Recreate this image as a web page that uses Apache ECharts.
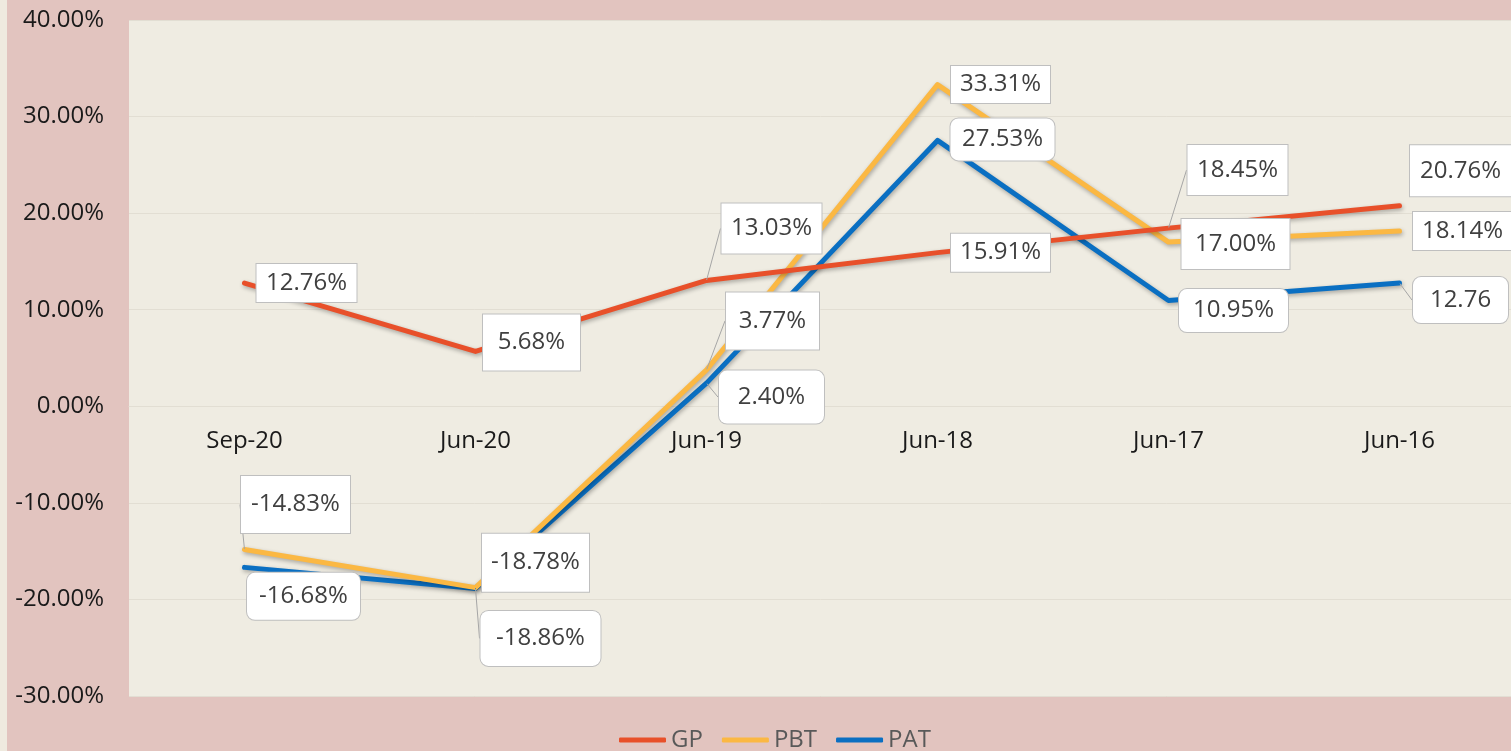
<!DOCTYPE html>
<html>
<head>
<meta charset="utf-8">
<title>GP / PBT / PAT</title>
<script src="https://cdn.jsdelivr.net/npm/echarts@6/dist/echarts.min.js"></script>
<style>
  html, body { margin: 0; padding: 0; background: #e2c4bf; }
  #chart { width: 1511px; height: 751px; }
</style>
</head>
<body>
<div id="chart"></div>
<script>
// 数据
var periods = ["Sep-20", "Jun-20", "Jun-19", "Jun-18", "Jun-17", "Jun-16"];
var gpValues = [12.76, 5.68, 13.03, 15.91, 18.45, 20.76];
var pbtValues = [-14.83, -18.78, 3.77, 33.31, 17.0, 18.14];
var patValues = [-16.68, -18.86, 2.4, 27.53, 10.95, 12.76];
// PAT 最后一个标签原图没有 %
var patLabelTexts = ["-16.68%", "-18.86%", "2.40%", "27.53%", "10.95%", "12.76"];
var yTicks = { min: -30, max: 40, interval: 10 };

// 标签位置/尺寸: [dx, dy, 宽, 高, 引导线]
var gpLabelBox = [
  [62, 0, 100, 38, false],
  [56, -9, 97, 56, false],
  [65, -52, 100, 50, true],
  [63, 0, 99, 38, false],
  [69, -58, 100, 50, true],
  [61, -35, 101, 51, false],
];
var pbtLabelBox = [
  [51, -45, 109, 57, true],
  [60, -25, 107, 58, false],
  [66, -49, 93, 57, true],
  [63, 0, 99, 37, false],
  [67, 2, 108, 50, false],
  [63, 0, 99, 38, false],
];
var patLabelBox = [
  [59, 29, 113, 47, false],
  [65, 50, 120, 55, true],
  [65, 14, 105, 53, true],
  [65, -1, 104, 42, false],
  [65, 10, 109, 43, false],
  [61, 17, 95, 46, true],
];

var chart = echarts.init(document.getElementById("chart"));

function buildData(values, boxes, radius, texts) {
  return values.map(function (v, i) {
    var b = boxes[i];
    return {
      value: v,
      label: {
        width: b[2],
        height: b[3],
        lineHeight: b[3],
        borderRadius: radius,
        formatter: texts ? texts[i] : v.toFixed(2) + "%",
      },
      labelLine: { show: b[4] },
    };
  });
}

function makeSeries(name, values, color, boxes, radius, texts) {
  return {
    name: name,
    type: "line",
    data: buildData(values, boxes, radius, texts),
    symbol: "circle",
    symbolSize: 1,
    showSymbol: true,
    itemStyle: { color: color },
    lineStyle: {
      color: color,
      width: 5,
      cap: "round",
      join: "round",
      shadowColor: "rgba(0,0,0,0.3)",
      shadowBlur: 4,
      shadowOffsetX: 1,
      shadowOffsetY: 2,
    },
    label: {
      show: true,
      position: "inside",
      align: "center",
      verticalAlign: "middle",
      padding: 0,
      fontFamily: "Open Sans",
      fontSize: 24,
      color: "#404040",
      backgroundColor: "#ffffff",
      borderColor: "#bfbfbf",
      borderWidth: 1,
    },
    labelLine: {
      show: false,
      lineStyle: { color: "#a6a6a6", width: 1 },
    },
    labelLayout: function (params) {
      var b = boxes[params.dataIndex];
      return { dx: b[0], dy: b[1] };
    },
    emphasis: { disabled: true },
  };
}

var option = {
  backgroundColor: "#e2c4bf",
  animation: false,
  textStyle: { fontFamily: "Open Sans" },
  graphic: [
    {
      type: "rect",
      left: 0,
      top: 0,
      shape: { width: 7, height: 751 },
      style: { fill: "#efeadf" },
      z: -1,
    },
  ],
  grid: {
    left: 129,
    right: -4,
    top: 20,
    bottom: 55,
    outerBoundsMode: "none",
    show: true,
    backgroundColor: "#efece2",
    borderWidth: 0,
  },
  legend: {
    data: ["GP", "PBT", "PAT"],
    left: 614,
    top: 723,
    icon: "roundRect",
    itemWidth: 47,
    itemHeight: 5,
    itemGap: 19,
    textStyle: { fontFamily: "Open Sans", fontSize: 24, color: "#595959" },
  },
  xAxis: {
    type: "category",
    data: periods,
    boundaryGap: true,
    // 标签放在 0 线下面
    offset: -290,
    axisLine: { show: true, onZero: false, lineStyle: { color: "#e2ded3" } },
    axisTick: { show: false },
    axisLabel: { fontFamily: "Open Sans", fontSize: 24, color: "#1a1a1a", margin: 23 },
  },
  yAxis: {
    type: "value",
    min: yTicks.min,
    max: yTicks.max,
    interval: yTicks.interval,
    axisLine: { show: false },
    axisTick: { show: false },
    splitLine: { lineStyle: { color: "#e2ded3", width: 1 } },
    axisLabel: {
      fontFamily: "Open Sans",
      fontSize: 24,
      color: "#1a1a1a",
      margin: 25,
      formatter: function (v) {
        return v.toFixed(2) + "%";
      },
    },
  },
  series: [
    makeSeries("PAT", patValues, "#0a6fc2", patLabelBox, 8, patLabelTexts),
    makeSeries("PBT", pbtValues, "#fbb843", pbtLabelBox, 0),
    makeSeries("GP", gpValues, "#e8502a", gpLabelBox, 0),
  ],
};

chart.setOption(option);

window.addEventListener("resize", function () {
  chart.resize();
});
</script>
</body>
</html>
